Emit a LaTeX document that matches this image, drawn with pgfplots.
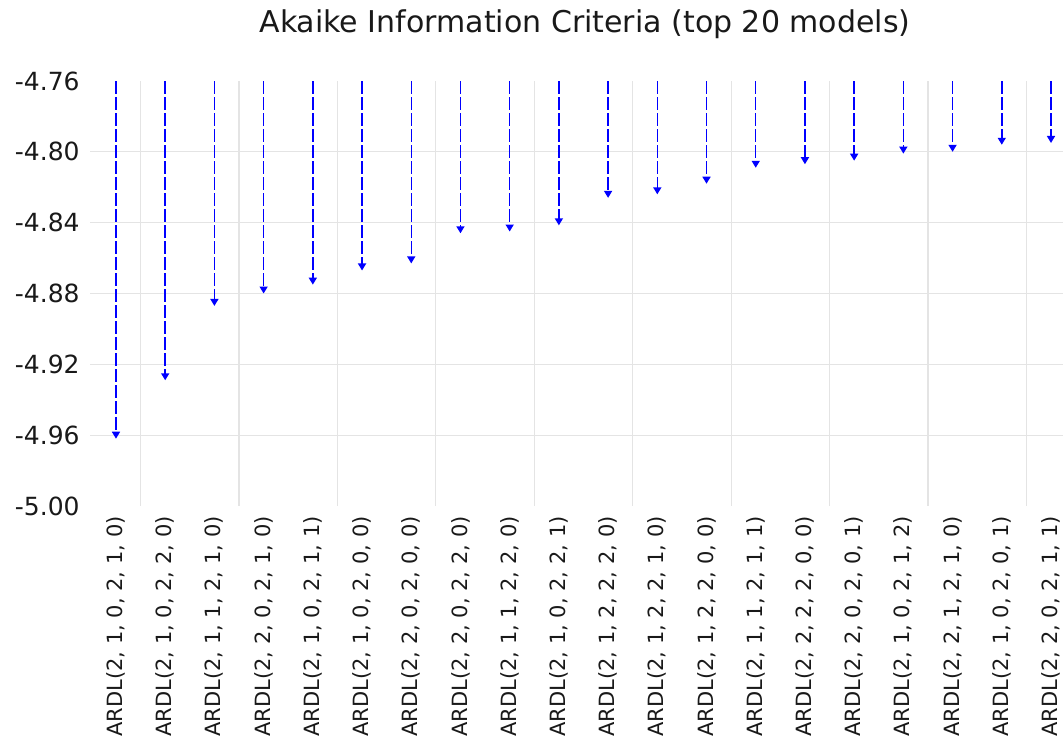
\documentclass[border=0pt]{standalone}
\usepackage{fontspec}
\setmainfont{DejaVu Sans}
\usepackage{pgfplots}
\usepackage{pgfplotstable}
\pgfplotsset{compat=1.18}
\usetikzlibrary{arrows.meta}
\definecolor{gridgray}{RGB}{228,228,228}

\pgfplotstableread{
x top val
0 -4.76 -4.962
1 -4.76 -4.929
2 -4.76 -4.887
3 -4.76 -4.880
4 -4.76 -4.875
5 -4.76 -4.867
6 -4.76 -4.863
7 -4.76 -4.846
8 -4.76 -4.845
9 -4.76 -4.8415
10 -4.76 -4.826
11 -4.76 -4.824
12 -4.76 -4.818
13 -4.76 -4.809
14 -4.76 -4.807
15 -4.76 -4.805
16 -4.76 -4.801
17 -4.76 -4.800
18 -4.76 -4.796
19 -4.76 -4.795
}\aicdata

\begin{document}
\begin{tikzpicture}
\begin{axis}[
  at={(0,0)}, anchor=south west,
  scale only axis, width=486.5pt, height=212.5pt,
  xmin=-0.528, xmax=19.244, ymin=-5.00, ymax=-4.76,
  axis line style={draw=none},
  major tick length=0pt,
  xtick={0,...,19},
  xticklabels={{ARDL(2, 1, 0, 2, 1, 0)},{ARDL(2, 1, 0, 2, 2, 0)},{ARDL(2, 1, 1, 2, 1, 0)},{ARDL(2, 2, 0, 2, 1, 0)},{ARDL(2, 1, 0, 2, 1, 1)},{ARDL(2, 1, 0, 2, 0, 0)},{ARDL(2, 2, 0, 2, 0, 0)},{ARDL(2, 2, 0, 2, 2, 0)},{ARDL(2, 1, 1, 2, 2, 0)},{ARDL(2, 1, 0, 2, 2, 1)},{ARDL(2, 1, 2, 2, 2, 0)},{ARDL(2, 1, 2, 2, 1, 0)},{ARDL(2, 1, 2, 2, 0, 0)},{ARDL(2, 1, 1, 2, 1, 1)},{ARDL(2, 2, 2, 2, 0, 0)},{ARDL(2, 2, 0, 2, 0, 1)},{ARDL(2, 1, 0, 2, 1, 2)},{ARDL(2, 2, 1, 2, 1, 0)},{ARDL(2, 1, 0, 2, 0, 1)},{ARDL(2, 2, 0, 2, 1, 1)}},
  xticklabel style={rotate=90, anchor=east, font=\fontsize{10.5}{12}\selectfont, inner sep=2pt, xshift=-3pt, text=black!90},
  ytick={-5.00,-4.96,-4.92,-4.88,-4.84,-4.80,-4.76},
  scaled y ticks=false,
  yticklabel style={font=\fontsize{12.5}{15}\selectfont, anchor=east, inner sep=0pt, xshift=-5pt, text=black!90,
    /pgf/number format/fixed, /pgf/number format/fixed zerofill, /pgf/number format/precision=2, /pgf/number format/assume math mode=true},
  extra y ticks={-4.96,-4.92,-4.88,-4.84,-4.80},
  extra y tick labels={},
  extra y tick style={grid=major},
  extra x ticks={0.5,2.5,4.5,6.5,8.5,10.5,12.5,14.5,16.5,18.5},
  extra x tick labels={},
  extra x tick style={grid=major},
  major grid style={draw=gridgray, line width=0.6pt},
  title={Akaike Information Criteria (top 20 models)},
  title style={at={(0.5,1)}, anchor=base, yshift=18.5pt, xshift=4.25pt, font=\fontsize{15}{18}\selectfont, text=black!90},
  clip=false,
]
\addplot[blue, line width=0.75pt, dash pattern=on 6.5pt off 1.5pt,
  quiver={u=0, v=\thisrow{val}-\thisrow{top}},
  -{Triangle[length=3.5pt,width=4pt]}] table[x=x,y=top] {\aicdata};
\end{axis}
\pgfresetboundingbox
\useasboundingbox (-45pt,-117pt) rectangle (486.5pt,253pt);
\end{tikzpicture}
\end{document}
